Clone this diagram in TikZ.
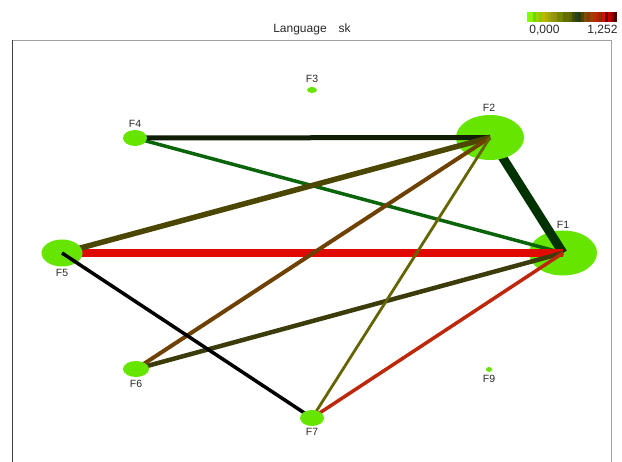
\documentclass[tikz,border=0pt]{standalone}
\usepackage{fontspec}
\setmainfont{Liberation Sans}
\usepackage{tikz}
\usetikzlibrary{shapes.geometric}
\definecolor{netGreen}{RGB}{102, 229, 0}
\definecolor{netText}{RGB}{40, 40, 40}
\definecolor{frameLight}{RGB}{160, 160, 160}
\definecolor{frameDark}{RGB}{64, 64, 64}
\definecolor{edgeOneTwo}{RGB}{0, 50, 0}
\definecolor{edgeOneFour}{RGB}{10, 100, 10}
\definecolor{edgeOneFive}{RGB}{225, 10, 0}
\definecolor{edgeOneSix}{RGB}{60, 60, 10}
\definecolor{edgeOneSeven}{RGB}{190, 40, 10}
\definecolor{edgeTwoFour}{RGB}{15, 30, 5}
\definecolor{edgeTwoFive}{RGB}{75, 70, 0}
\definecolor{edgeTwoSix}{RGB}{110, 65, 0}
\definecolor{edgeTwoSeven}{RGB}{100, 100, 0}
\tikzset{
  factor/.style={ellipse, fill=netGreen, inner sep=0pt},
  flabel/.style={text=netText, font=\fontsize{10.5}{12}\selectfont, inner sep=0pt},
  link/.style={line cap=butt}
}

\begin{document}
\begin{tikzpicture}[x=1pt, y=-1pt]

  \useasboundingbox (0, 0) rectangle (622, 462);
  % frame
  \draw [frameLight, line width=1.5pt] (12, 40.5) -- (611.5, 40.5);
  \draw [frameDark, line width=1.3pt] (12.2, 40) -- (12.2, 462);
  \draw [frameLight, line width=1.8pt] (611.5, 40) -- (611.5, 462);
  % title and colour key
  \node[text=netText, font=\fontsize{12}{14}\selectfont] (title) at (312, 29) {Language\quad sk};
  \foreach \c [count=\i from 0] in {80FF00, 99EE00, 66DD00, A0D000, 88CC00, C8B400, B0B000, 99AA00,
      A09020, 889900, 808000, 708800, 607000, 6B6B00, 556B00, 405000, 304020, 204010,
      5A4000, 7A5000, 8A3A00, A04000, B03000, C02000, 803000, D01000, 600000, C00000, 900000, 500000}
  {
    \definecolor{keyStripe}{HTML}{\c}
    \fill [keyStripe] ({527 + 3*\i}, 12.5) rectangle ({530 + 3*\i}, 22.5);
  }
  \node[text=netText, font=\fontsize{12}{14}\selectfont] (keyLow) at (544.5, 30) {0,000};
  \node[text=netText, font=\fontsize{12}{14}\selectfont] (keyHigh) at (602.5, 30) {1,252};

  \coordinate (F1) at (563, 253);
  \coordinate (F2) at (490, 137.5);
  \coordinate (F3) at (312, 90);
  \coordinate (F4) at (135, 138);
  \coordinate (F5) at (62, 253);
  \coordinate (F6) at (136, 369);
  \coordinate (F7) at (312, 418);
  \coordinate (F9) at (489, 369.5);

  \node[factor, minimum width=68pt, minimum height=45pt] (n1) at (F1) {};
  \draw[link, edgeOneTwo, line width=9pt] (F1) -- (F2);
  \draw[link, edgeOneFour, line width=3.5pt] (F1) -- (F4);
  \draw[link, edgeOneFive, line width=8pt] (F1) -- (F5);
  \draw[link, edgeOneSix, line width=4.5pt] (F1) -- (F6);
  \draw[link, edgeOneSeven, line width=3.5pt] (F1) -- (F7);
  \node[factor, minimum width=68pt, minimum height=45pt] (n2) at (F2) {};
  \draw[link, edgeTwoFour, line width=5pt] (F2) -- (F4);
  \draw[link, edgeTwoFive, line width=5.5pt] (F2) -- (F5);
  \draw[link, edgeTwoSix, line width=4pt] (F2) -- (F6);
  \draw[link, edgeTwoSeven, line width=2.8pt] (F2) -- (F7);
  \node[factor, minimum width=10pt, minimum height=6pt] (n3) at (F3) {};
  \node[factor, minimum width=24pt, minimum height=16pt] (n4) at (F4) {};
  \node[factor, minimum width=41pt, minimum height=27pt] (n5) at (F5) {};
  \draw[link, black, line width=3.5pt] (F5) -- (F7);
  \node[factor, minimum width=26pt, minimum height=16pt] (n6) at (F6) {};
  \node[factor, minimum width=24pt, minimum height=16pt] (n7) at (F7) {};
  \node[factor, minimum width=6pt, minimum height=5pt] (n9) at (F9) {};

  \node[flabel] (l1) at (563, 225) {F1};
  \node[flabel] (l2) at (489, 108) {F2};
  \node[flabel] (l3) at (312, 79) {F3};
  \node[flabel] (l4) at (135, 124) {F4};
  \node[flabel] (l5) at (62, 273) {F5};
  \node[flabel] (l6) at (136, 384) {F6};
  \node[flabel] (l7) at (312, 432) {F7};
  \node[flabel] (l9) at (489, 378.5) {F9};

\end{tikzpicture}
\end{document}
